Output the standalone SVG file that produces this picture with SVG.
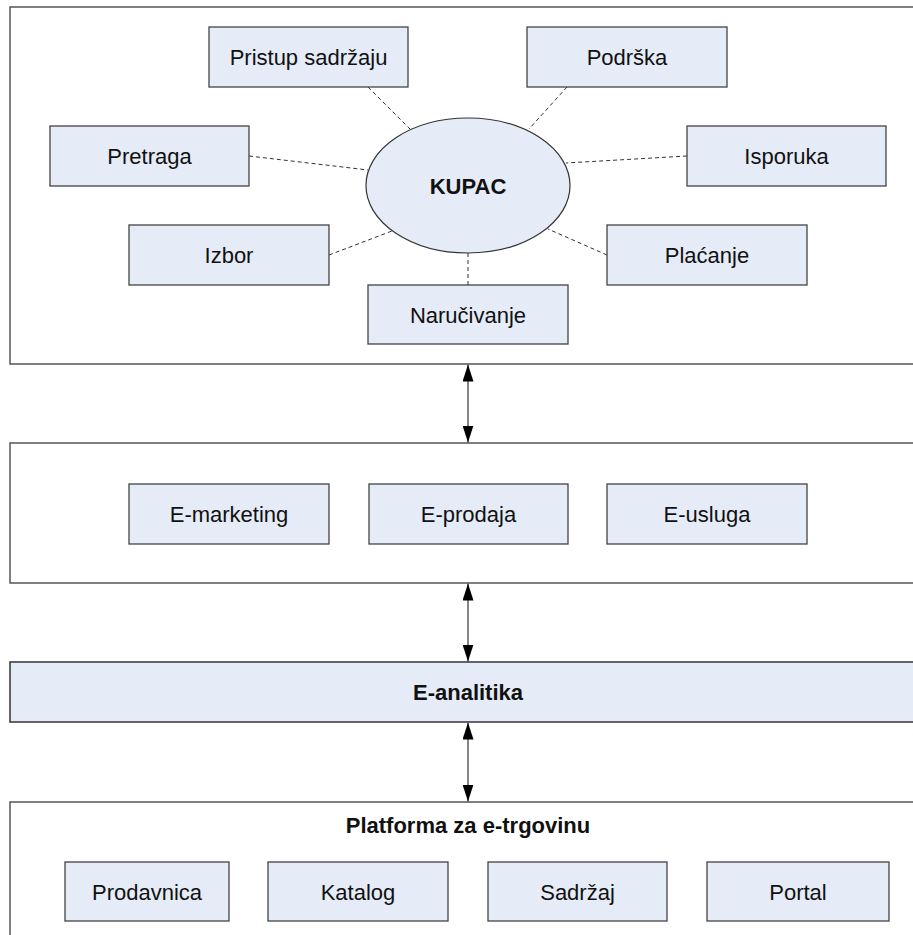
<svg xmlns="http://www.w3.org/2000/svg" width="913" height="935" viewBox="0 0 913 935">
  <style>
    .frame { fill: #ffffff; stroke: #555555; stroke-width: 1.5; }
    .box { fill: #e6ecf7; stroke: #444444; stroke-width: 1.3; }
    .lbl { font-family: "Liberation Sans", Arial, sans-serif; font-size: 22px; fill: #111111; text-anchor: middle; }
    .bold { font-weight: bold; }
    .dash { stroke: #333333; stroke-width: 1; stroke-dasharray: 4 3; fill: none; }
    .arrow { stroke: #444444; stroke-width: 1.3; fill: none; marker-start: url(#head); marker-end: url(#head); }
  </style>
  <defs>
    <marker id="head" viewBox="0 0 17 11" refX="17" refY="5.5" markerWidth="17" markerHeight="11" markerUnits="userSpaceOnUse" orient="auto-start-reverse">
      <path d="M0,0 L17,5.5 L0,11 Z" fill="#000000"/>
    </marker>
  </defs>

  <rect width="913" height="935" fill="#ffffff"/>

  <!-- customer layer -->
  <g id="customer-layer">
    <rect class="frame" x="10" y="7" width="915" height="357"/>
  </g>

  <!-- dashed links around the customer -->
  <g id="customer-links">
    <line class="dash" x1="368" y1="87" x2="410" y2="129"/>
    <line class="dash" x1="249" y1="156" x2="368" y2="170"/>
    <line class="dash" x1="329" y1="255" x2="392" y2="231"/>
    <line class="dash" x1="567" y1="87" x2="529" y2="129"/>
    <line class="dash" x1="687" y1="156" x2="566" y2="163"/>
    <line class="dash" x1="607" y1="255" x2="548" y2="229"/>
    <line class="dash" x1="468" y1="253" x2="468" y2="285"/>
  </g>

  <g id="kupac">
    <ellipse cx="468" cy="185.5" rx="102" ry="67.5" fill="#e6ecf7" stroke="#333333" stroke-width="1.2"/>
    <text class="lbl bold" x="468" y="193.5">KUPAC</text>
  </g>
  <g id="pristup">
    <rect class="box" x="209" y="27" width="199" height="60"/>
    <text class="lbl" x="308.5" y="65">Pristup sadržaju</text>
  </g>
  <g id="podrska">
    <rect class="box" x="527" y="27" width="200" height="60"/>
    <text class="lbl" x="627" y="65">Podrška</text>
  </g>
  <g id="pretraga">
    <rect class="box" x="50" y="126" width="199" height="60"/>
    <text class="lbl" x="149.5" y="164">Pretraga</text>
  </g>
  <g id="isporuka">
    <rect class="box" x="687" y="126" width="199" height="60"/>
    <text class="lbl" x="786.5" y="164">Isporuka</text>
  </g>
  <g id="izbor">
    <rect class="box" x="129" y="225" width="200" height="60"/>
    <text class="lbl" x="229" y="263">Izbor</text>
  </g>
  <g id="placanje">
    <rect class="box" x="607" y="225" width="200" height="60"/>
    <text class="lbl" x="707" y="263">Plaćanje</text>
  </g>
  <g id="narucivanje">
    <rect class="box" x="368" y="285" width="200" height="59"/>
    <text class="lbl" x="468" y="322.5">Naručivanje</text>
  </g>

  <!-- e-business layer -->
  <g id="ebusiness-layer">
    <rect class="frame" x="10" y="443" width="915" height="140"/>
  </g>
  <g id="e-marketing">
    <rect class="box" x="129" y="484" width="200" height="60"/>
    <text class="lbl" x="229" y="522">E-marketing</text>
  </g>
  <g id="e-prodaja">
    <rect class="box" x="369" y="484" width="199" height="60"/>
    <text class="lbl" x="468.5" y="522">E-prodaja</text>
  </g>
  <g id="e-usluga">
    <rect class="box" x="607" y="484" width="200" height="60"/>
    <text class="lbl" x="707" y="522">E-usluga</text>
  </g>

  <!-- analytics band -->
  <g id="e-analitika">
    <rect x="10" y="662" width="915" height="60" fill="#e6ecf7" stroke="#333333" stroke-width="1.5"/>
    <text class="lbl bold" x="468" y="700">E-analitika</text>
  </g>

  <!-- platform layer -->
  <g id="platforma">
    <rect class="frame" x="10" y="802" width="915" height="150"/>
    <text class="lbl bold" x="468" y="832.5">Platforma za e-trgovinu</text>
  </g>
  <g id="prodavnica">
    <rect class="box" x="65" y="862" width="164" height="59"/>
    <text class="lbl" x="147" y="899.5">Prodavnica</text>
  </g>
  <g id="katalog">
    <rect class="box" x="268" y="862" width="180" height="59"/>
    <text class="lbl" x="358" y="899.5">Katalog</text>
  </g>
  <g id="sadrzaj">
    <rect class="box" x="488" y="862" width="179" height="59"/>
    <text class="lbl" x="577.5" y="899.5">Sadržaj</text>
  </g>
  <g id="portal">
    <rect class="box" x="707" y="862" width="182" height="59"/>
    <text class="lbl" x="798" y="899.5">Portal</text>
  </g>

  <!-- two-way connectors between layers -->
  <g id="connectors">
    <line class="arrow" x1="468" y1="364.5" x2="468" y2="442.5"/>
    <line class="arrow" x1="468" y1="583.5" x2="468" y2="661.5"/>
    <line class="arrow" x1="468" y1="722.5" x2="468" y2="801.5"/>
  </g>
</svg>
